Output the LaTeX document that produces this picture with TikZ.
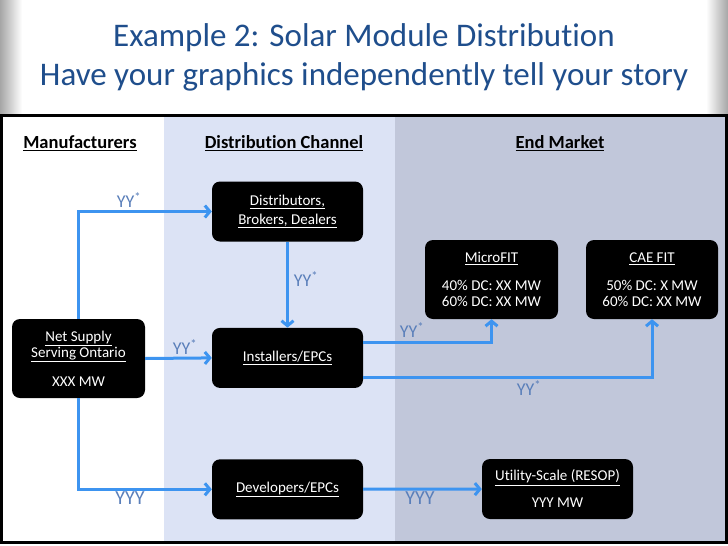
\documentclass[tikz,border=0pt]{standalone}
\usepackage{fontspec}
\setmainfont{Carlito}[Ligatures=NoCommon]
\usetikzlibrary{
    arrows.meta,
    positioning
}

\definecolor{titleblue}{HTML}{1F4E8C}
\definecolor{flowblue}{HTML}{3D94F0}
\definecolor{qtyblue}{HTML}{5A7FBA}
\definecolor{chanfill}{HTML}{DCE3F5}
\definecolor{marketfill}{HTML}{C1C7DA}

\begin{document}
\begin{tikzpicture}[
x=1pt, y=-1pt,
box/.style={
fill=black,
rounded corners=8pt,
text=white,
align=center,
inner sep=0pt,
minimum width=151pt,
minimum height=60pt,
font=\fontsize{15}{16}\selectfont
},
flow/.style={
draw=flowblue,
line width=3pt,
-{Straight Barb[length=5pt, width=12pt]}
},
qty/.style={text=qtyblue, font=\fontsize{18}{18}\selectfont},
colhead/.style={font=\bfseries\fontsize{18.5}{18.5}\selectfont}
]

\useasboundingbox (0,0) rectangle (728,546);

% slide background
\fill[white] (0,0) rectangle (728,546);
\shade[left color=gray!70, right color=white] (0,0) rectangle (22,115);
\shade[left color=white, right color=gray!70] (706,0) rectangle (728,115);

% columns
\fill[chanfill] (164,115) rectangle (395,542);
\fill[marketfill] (395,115) rectangle (726,542);
\draw[line width=3pt] (1.5,115.5) rectangle (726,542.5);

% title
\node[text=titleblue, font=\fontsize{33}{39}\selectfont, align=center] (title)
at (364,57) {Example 2: Solar Module Distribution\\Have your graphics independently tell your story};

% column headings
\node[colhead] (hmanu) at (80,143) {\underline{Manufacturers}};
\node[colhead] (hchan) at (284,143) {\underline{Distribution Channel}};
\node[colhead] (hmarket) at (560,143) {\underline{End Market}};

% boxes
\node[box, font=\fontsize{15}{19}\selectfont] (dist) at (287.5,211.5)
{\underline{Distributors,}\\\underline{Brokers, Dealers}};

\node[box, below=86pt of dist] (inst)
{\underline{Installers/EPCs}};

\node[box, below=71pt of inst] (dev)
{\underline{Developers/EPCs}};

\node[box, minimum width=133pt, minimum height=79pt] (net) at (78.5,358.5)
{\underline{Net Supply}\\\underline{Serving Ontario}\\[13pt]XXX MW};

\node[box, minimum width=133pt, minimum height=79pt] (micro) at (491.5,279.5)
{\underline{MicroFIT}\\[12pt]40\% DC: XX MW\\60\% DC: XX MW};

\node[box, minimum width=132pt, minimum height=79pt] (cae) at (652,279.5)
{\underline{CAE FIT}\\[12pt]50\% DC: X MW\\60\% DC: XX MW};

\node[box] (util) at (557.5,489)
{\underline{Utility-Scale (RESOP)}\\[11pt]YYY MW};

% flows
\draw[flow] (net.north) |- (dist.west);
\draw[flow] (dist) -- (inst);
\draw[flow] (net.east) -- (inst.west);
\draw[flow] (net.south) |- (dev.west);
\draw[flow] ([yshift=15pt]inst.east) -| (micro.south);
\draw[flow] ([yshift=-20pt]inst.east) -| (cae.south);
\draw[flow] (dev) -- (util);

% quantities
\node[qty] (qdist) at (129,200) {YY\textsuperscript{*}};
\node[qty] (qinst) at (306,279) {YY\textsuperscript{*}};
\node[qty] (qnet) at (185,347) {YY\textsuperscript{*}};
\node[qty, font=\fontsize{20}{20}\selectfont] (qdev) at (130,498) {YYY};
\node[qty] (qmicro) at (412,330) {YY\textsuperscript{*}};
\node[qty] (qcae) at (529,388) {YY\textsuperscript{*}};
\node[qty, font=\fontsize{20}{20}\selectfont] (qutil) at (420,498) {YYY};

\end{tikzpicture}
\end{document}
